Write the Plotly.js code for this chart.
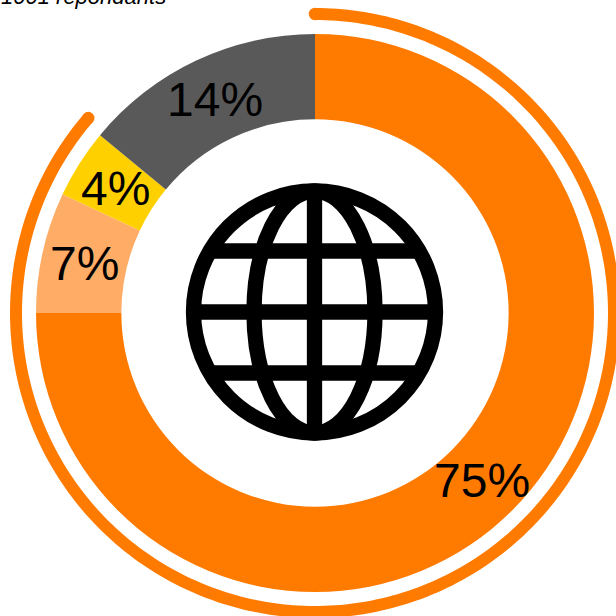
<!DOCTYPE html>
<html><head><meta charset="utf-8">
<script src="https://cdn.plot.ly/plotly-3.0.1.min.js"></script>
<style>html,body{margin:0;padding:0;background:#fff}#c{width:616px;height:616px}</style>
</head><body><div id="c"></div>
<script>
var categories = ["A", "B", "C", "D"];
var shares = [75, 7, 4, 14];
var sliceColors = ["#FF7B00", "#FFAD66", "#FFD000", "#595959"];
var ringShare = 86.3;
var caption = "1001 repondants";

var SIZE = 616, CX = 315, CY = 313, R = 279, RING = 299, HOLE = 0.694;
var total = shares.reduce(function(a,b){return a+b;},0);

var ringX = [], ringY = [];
for (var i = 0; i <= 300; i++) {
  var t = (i/300) * (ringShare/total) * 2*Math.PI;
  ringX.push(CX + RING*Math.sin(t));
  ringY.push(SIZE - CY + RING*Math.cos(t));
}
var n = ringX.length-1;

var traces = [
 {type:'pie', labels:categories, values:shares, sort:false, direction:'clockwise', rotation:0,
  hole:HOLE, marker:{colors:sliceColors, line:{width:0}},
  textinfo:'none',
  domain:{x:[(CX-R)/SIZE,(CX+R)/SIZE], y:[(SIZE-CY-R)/SIZE,(SIZE-CY+R)/SIZE]},
  showlegend:false, hoverinfo:'skip'},
 {type:'scatter', mode:'lines', x:ringX, y:ringY, line:{color:'#FF7B00', width:12, simplify:false}, showlegend:false, hoverinfo:'skip'},
 {type:'scatter', mode:'markers', x:[ringX[0],ringX[n]], y:[ringY[0],ringY[n]], marker:{color:'#FF7B00', size:12.5}, showlegend:false, hoverinfo:'skip'}
];

var GX = 314.5, GY = SIZE-312, GR = 121, GW = 15.3, MER = 60.5, LAT = 61;
function ln(extra){ return Object.assign({xref:'x',yref:'y',line:{color:'#000',width:GW},layer:'above'},extra); }
var chord = Math.sqrt(GR*GR-LAT*LAT);
var shapes = [
 ln({type:'circle',x0:GX-GR,x1:GX+GR,y0:GY-GR,y1:GY+GR}),
 ln({type:'circle',x0:GX-MER,x1:GX+MER,y0:GY-GR,y1:GY+GR}),
 ln({type:'line',x0:GX,x1:GX,y0:GY-GR,y1:GY+GR}),
 ln({type:'line',x0:GX-GR,x1:GX+GR,y0:GY,y1:GY}),
 ln({type:'line',x0:GX-chord,x1:GX+chord,y0:GY+LAT,y1:GY+LAT}),
 ln({type:'line',x0:GX-chord,x1:GX+chord,y0:GY-LAT,y1:GY-LAT})
];

var FONT = 'Liberation Sans, Arial, sans-serif';
var annotations = [{xref:'paper',yref:'paper',x:168/SIZE,y:(SIZE-11)/SIZE,xanchor:'right',yanchor:'bottom',showarrow:false,
   text:'<i>'+caption+'</i>',font:{family:FONT,size:22,color:'#000'}}];
var cum = 0, midR = R*(1+HOLE)/2;
var nudgeX = [0, 0, 0, 1], nudgeY = [0, -2, -2, 0];
shares.forEach(function(v, k){
  var a = (cum + v/2)/total*2*Math.PI; cum += v;
  annotations.push({xref:'x',yref:'y',x:CX+midR*Math.sin(a),y:SIZE-CY+midR*Math.cos(a),
    xshift:nudgeX[k], yshift:nudgeY[k],
    xanchor:'center',yanchor:'middle',showarrow:false,text:v+'%',
    font:{family:FONT,size:48,color:'#000'}});
});

var layout = {
 width:SIZE, height:SIZE, margin:{l:0,r:0,t:0,b:0},
 paper_bgcolor:'#fff', plot_bgcolor:'rgba(0,0,0,0)',
 xaxis:{range:[0,SIZE],visible:false,fixedrange:true},
 yaxis:{range:[0,SIZE],visible:false,fixedrange:true},
 shapes:shapes, annotations:annotations
};
Plotly.newPlot('c',traces,layout,{staticPlot:true,displayModeBar:false});
</script></body></html>
